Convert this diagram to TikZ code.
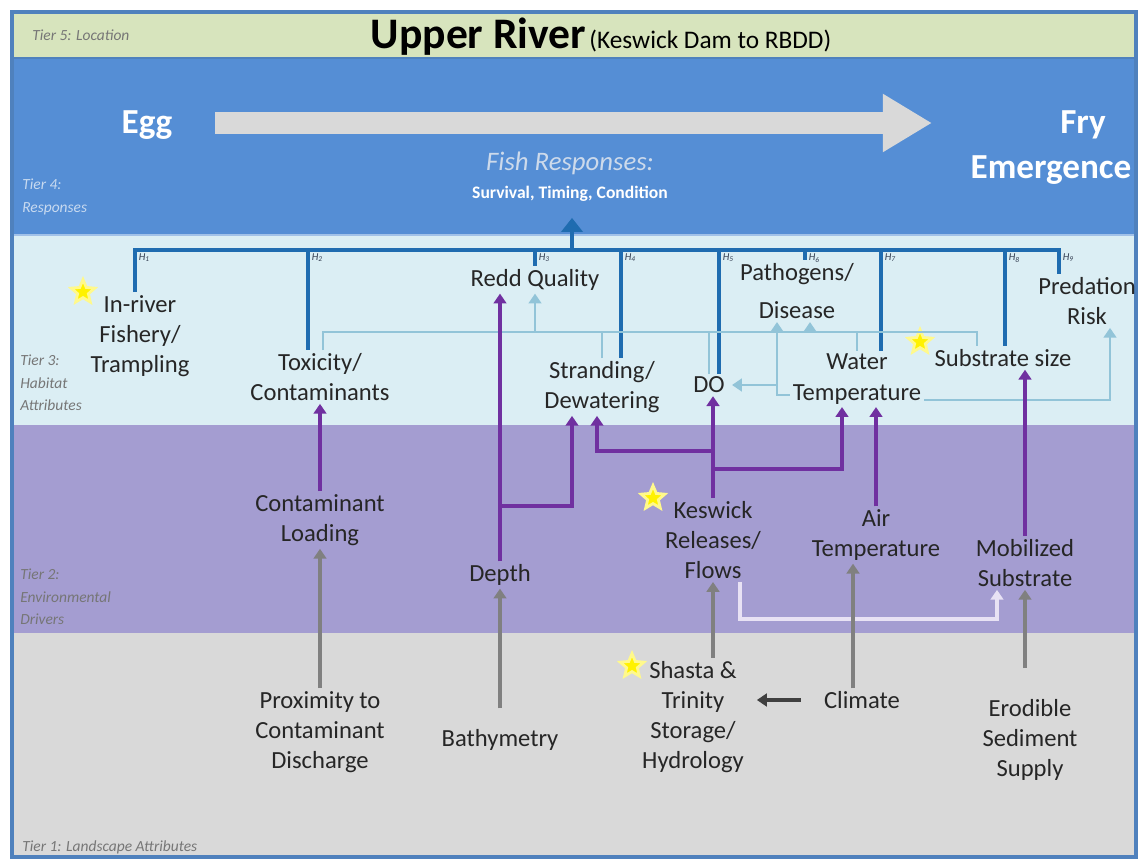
\documentclass[tikz,border=0pt]{standalone}
\usepackage{fontspec}
\setmainfont{Carlito}
\usepackage{tikz,xcolor}
\usetikzlibrary{arrows.meta}
\usetikzlibrary{calc}
\usetikzlibrary{shapes.geometric}
\definecolor{tierfive}{RGB}{215,228,189}
\definecolor{tierfour}{RGB}{85,142,213}
\definecolor{tierthree}{RGB}{219,238,244}
\definecolor{tiertwo}{RGB}{164,157,209}
\definecolor{tierone}{RGB}{217,217,217}
\definecolor{framecol}{RGB}{79,129,189}
\definecolor{hypblue}{RGB}{31,108,176}
\definecolor{habitblue}{RGB}{146,196,216}
\definecolor{drivepurple}{RGB}{112,48,160}
\definecolor{landgray}{RGB}{128,128,128}
\definecolor{climategray}{RGB}{64,64,64}
\definecolor{flowlav}{RGB}{232,226,244}
\definecolor{lifegray}{RGB}{217,217,217}
\definecolor{inkdark}{RGB}{38,38,38}
\definecolor{fishtxt}{RGB}{205,218,235}
\definecolor{tiertxt}{RGB}{118,118,118}
\definecolor{tierfourtxt}{RGB}{200,218,240}
\definecolor{hyptxt}{RGB}{50,60,80}
\NewDocumentCommand\hyp{m}{\textit{H}\textsubscript{#1}}

\begin{document}
\begin{tikzpicture}[x=0.025cm,y=-0.025cm,>={Triangle[width=9pt,length=7pt]},
    txt/.style={align=center,text=inkdark,inner sep=2pt,font=\fontsize{17.5}{21.5}\selectfont},
    tierlab/.style={anchor=west,align=left,text=tiertxt,inner sep=0pt,font=\itshape\fontsize{11}{16}\selectfont},
    big/.style={text=white,inner sep=0pt,font=\bfseries\fontsize{25}{27}\selectfont},
    drive/.style={draw=drivepurple,line width=2.8pt,->},
    land/.style={draw=landgray,line width=2.5pt,->},
    habit/.style={draw=habitblue,line width=2pt},
    hyline/.style={draw=hypblue,line width=3.5pt},
    hlab/.style={anchor=north west,inner sep=2.5pt,text=hyptxt,font=\itshape\fontsize{7.5}{8}\selectfont},
    starmark/.style={star,star points=5,star point ratio=2.2,fill=yellow,draw=yellow!45!white,line width=2pt,minimum size=0.62cm,inner sep=0pt}]
  \useasboundingbox (0,0) rectangle (1138,859);
  \fill[tierone] (12,633) rectangle (1136,857);
  \fill[tiertwo] (12,425) rectangle (1136,633);
  \fill[tierthree] (12,235) rectangle (1136,425);
  \fill[tierfour] (12,58) rectangle (1136,235);
  \fill[tierfive] (12,12) rectangle (1136,58);
  \draw[framecol,line width=2pt] (12,58) -- (1136,58);
  \draw[tierfour!55!white,line width=1.2pt] (12,235) -- (1136,235);
  \draw[framecol,line width=3pt] (12,12) rectangle (1136,857);

  \node[tierlab] (t5) at (32,35) {Tier 5: Location};
  \node[text=black,inner sep=0pt] (title) at (601,37) {{\bfseries\fontsize{31}{33}\selectfont Upper River} {\fontsize{18}{20}\selectfont (Keswick Dam to RBDD)}};

  \node[big] (egg) at (147,125) {Egg};
  \node[big] (fry) at (1083,125) {Fry};
  \node[big] (emergence) at (1051,170) {Emergence};
  \coordinate (lifeS) at (215,123);
  \coordinate (lifeE) at (932,123);
  \draw[lifegray,line width=15.6pt,-{Triangle[width=39pt,length=35pt]}] (lifeS) -- (lifeE);
  \node[text=fishtxt,font=\itshape\fontsize{19}{21}\selectfont] (fishresp) at (570,163) {Fish Responses:};
  \node[text=white,font=\bfseries\fontsize{12.5}{14}\selectfont] (survival) at (570,194) {Survival, Timing, Condition};
  \node[tierlab,text=tierfourtxt] (t4) at (22,197) {Tier 4:\\Responses};

  \node[tierlab] (t3) at (20,383) {Tier 3:\\Habitat\\Attributes};
  \node[txt] (fishery) at (140,336) {In-river\\Fishery/\\Trampling};
  \node[txt] (toxicity) at (320,377) {Toxicity/\\Contaminants};
  \node[txt] (redd) at (535,280) {Redd Quality};
  \node[txt] (stranding) at (602,387) {Stranding/\\Dewatering};
  \node[txt] (DO) at (709,385) {DO};
  \node[txt] (pathogens) at (797,291) {Pathogens/\\[6pt]Disease};
  \node[txt] (predation) at (1087,301) {Predation\\Risk};
  \node[txt] (watertemp) at (857,379) {Water\\Temperature};
  \node[txt] (substrate) at (1003,358) {Substrate size};

  \node[tierlab] (t2) at (20,597) {Tier 2:\\Environmental\\Drivers};
  \node[txt] (loading) at (320,520) {Contaminant\\Loading};
  \node[txt] (depth) at (500,575) {Depth};
  \node[txt] (keswick) at (713,540) {Keswick\\Releases/\\Flows};
  \node[txt] (airtemp) at (876,535) {Air\\Temperature};
  \node[txt] (mobilized) at (1025,563) {Mobilized\\Substrate};

  \node[tierlab] (t1) at (22,847) {Tier 1: Landscape Attributes};
  \node[txt] (proximity) at (320,732) {Proximity to\\Contaminant\\Discharge};
  \node[txt] (bathymetry) at (500,740) {Bathymetry};
  \node[txt] (shasta) at (693,717) {Shasta \&\\Trinity\\Storage/\\Hydrology};
  \node[txt] (climate) at (862,700) {Climate};
  \node[txt] (erodible) at (1030,740) {Erodible\\Sediment\\Supply};

  \node[starmark] (star1) at (83,292) {};
  \node[starmark] (star2) at (920,342) {};
  \node[starmark] (star3) at (653,498) {};
  \node[starmark] (star4) at (632,666) {};

  \coordinate (hbusL) at (135,250);
  \coordinate (hbusR) at (1059,250);
  \coordinate (busmid) at (572,250);
  \draw[hyline] (fishery.north -| hbusL) -- (hbusL) -- (hbusR) -- (predation.north -| hbusR);
  \foreach \x/\n in {308/toxicity,535/redd,621/stranding,719/DO,805/pathogens,881/watertemp,1005/substrate}
    \draw[hyline] (\x,250) -- (\n.north -| \x,250);
  \foreach \x [count=\i] in {135,308,535,621,719,805,881,1005,1059}
    \node[hlab] (hl\i) at (\x,250) {\hyp{\i}};
  \draw[hyline,-{Triangle[width=15pt,length=10pt]},shorten >=8pt] (busmid) -- (busmid |- survival.south);

  \coordinate (busL) at (323,332);
  \coordinate (busR) at (977,332);
  \coordinate (pathin) at ($(pathogens.south)+(13,0)$);
  \coordinate (wtloop) at ($(pathogens.south)+(-20,0)$);
  \coordinate (wtleft) at ($(watertemp.west)+(0,16)$);
  \coordinate (wtright) at ($(watertemp.east)+(0,21)$);
  \coordinate (predin) at ($(predation.south)+(23,0)$);
  \draw[habit] (toxicity.north -| busL) -- (busL) -- (busR) -- (substrate.north -| busR);
  \draw[habit] (stranding.north) -- (stranding.north |- busL);
  \draw[habit] (DO.north) -- (DO.north |- busL);
  \draw[habit] (watertemp.north) -- (watertemp.north |- busL);
  \draw[habit,->] (redd.south |- busL) -- (redd.south);
  \draw[habit,->] (pathin |- busL) -- (pathin);
  \draw[habit,->] (wtleft) -| (wtloop);
  \draw[habit,->,shorten >=3pt] (wtloop |- DO.east) -- (DO.east);
  \draw[habit,->] (wtright) -| (predin);

  \draw[drive] (loading) -- (toxicity);
  \draw[drive] (depth.north) -- (depth.north |- redd.south);
  \draw[drive] (depth.north) ++(0,-55) -| ($(stranding.south)+(-30,0)$);
  \draw[drive] (keswick.north) -- (keswick.north |- DO.south);
  \draw[drive] (keswick.north) ++(0,-47) -| ($(stranding.south)+(-5,0)$);
  \draw[drive] (keswick.north) ++(0,-29) -| ($(watertemp.south)+(-15,0)$);
  \draw[drive] (airtemp.north) -- (airtemp.north |- watertemp.south);
  \draw[drive] (mobilized.north) -- (mobilized.north |- substrate.south);

  \draw[flowlav,line width=2.2pt,->] ($(keswick.south)+(27,0)$) -- ++(0,37) -| ($(mobilized.south)+(-28,0)$);

  \draw[land] (proximity) -- (loading);
  \draw[land,shorten <=0.45cm] (bathymetry) -- (depth);
  \draw[land] (keswick.south |- shasta.north) -- (keswick.south);
  \coordinate (climup) at ($(climate.north)+(-9,0)$);
  \draw[land] (climup) -- (climup |- airtemp.south);
  \draw[land,shorten <=0.7cm] (mobilized.south |- erodible.north) -- (mobilized.south);
  \draw[land,climategray,line width=3pt,shorten <=0.5cm,shorten >=0.25cm] (climate.west) -- (climate.west -| shasta.east);
\end{tikzpicture}
\end{document}
